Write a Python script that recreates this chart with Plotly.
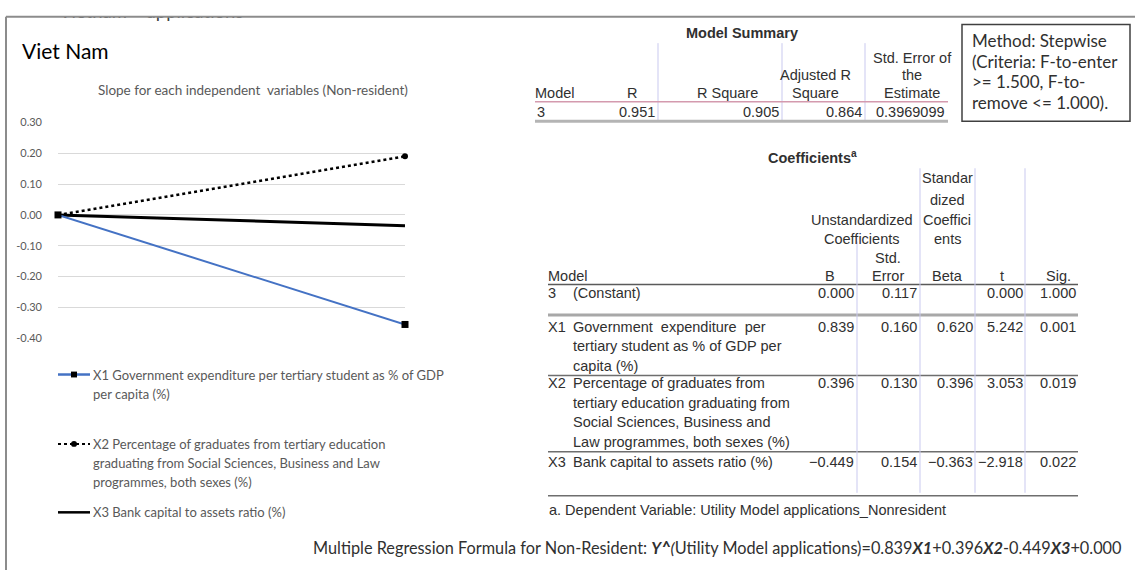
import plotly.graph_objects as go

W, H = 1135, 576

# ---- slope chart data (two points: origin and slope end)
points = [0, 1]
x1_slope = [0.0, -0.355]
x2_slope = [0.0, 0.19]
x3_slope = [0.0, -0.035]
y_ticks = [-0.4, -0.3, -0.2, -0.1, 0.0, 0.1, 0.2, 0.3]
y_tick_labels = ["-0.40", "-0.30", "-0.20", "-0.10", "0.00", "0.10", "0.20", "0.30"]

legend_x1 = ["X1 Government expenditure per tertiary student as % of GDP", "per capita (%)"]
legend_x2 = ["X2 Percentage of graduates from tertiary education",
             "graduating from Social Sciences, Business and Law",
             "programmes, both sexes (%)"]
legend_x3 = ["X3 Bank capital to assets ratio (%)"]

# ---- model summary
summary_model = "3"
summary_r = 0.951
summary_r2 = 0.905
summary_adj_r2 = 0.864
summary_se = 0.3969099

# ---- coefficients table
coef_ids = ["3", "X1", "X2", "X3"]
coef_names = [["(Constant)"],
              ["Government  expenditure  per", "tertiary student as % of GDP per", "capita (%)"],
              ["Percentage of graduates from", "tertiary education graduating from",
               "Social Sciences, Business and", "Law programmes, both sexes (%)"],
              ["Bank capital to assets ratio (%)"]]
coef_b = [0.000, 0.839, 0.396, -0.449]
coef_se = [0.117, 0.160, 0.130, 0.154]
coef_beta = [None, 0.620, 0.396, -0.363]
coef_t = [0.000, 5.242, 3.053, -2.918]
coef_sig = [1.000, 0.001, 0.019, 0.022]

method_lines = ["Method: Stepwise", "(Criteria: F-to-enter", "&gt;= 1.500, F-to-", "remove &lt;= 1.000)."]
clipped_words = ["Vietnam", "applications"]

CAL = "Lato"
SPSS = "Liberation Sans"
GREY = "#595959"
INK = "#303030"
LAV = "#c9c9ef"


def px(x):
    return x / W


def py(y):
    return 1 - y / H


annotations = []
shapes = []


def label(x, y, s, size=14.5, color=INK, family=SPSS, anchor="left"):
    if not s:
        return
    annotations.append(dict(x=px(x), y=py(y), xref="paper", yref="paper", text=s,
                            showarrow=False, xanchor=anchor, yanchor="middle",
                            borderpad=0, borderwidth=0,
                            font=dict(size=size, color=color, family=family)))


def rule(x0, y0, x1, y1, color, width=1, dash="solid"):
    shapes.append(dict(type="line", xref="paper", yref="paper",
                       x0=px(x0), y0=py(y0), x1=px(x1), y1=py(y1),
                       line=dict(color=color, width=width, dash=dash)))


def num(v):
    return "" if v is None else f"{v:.3f}".replace("-", "\u2212")


fig = go.Figure()

# lines of the slope chart
fig.add_trace(go.Scatter(x=points, y=x3_slope, mode="lines", cliponaxis=False,
                         line=dict(color="#000000", width=3), name=legend_x3[0]))
fig.add_trace(go.Scatter(x=points, y=x2_slope, mode="lines+markers", cliponaxis=False,
                         line=dict(color="#000000", width=2.5, dash="dot"),
                         marker=dict(symbol="circle", size=6, color="#000000"),
                         name=legend_x2[0]))
fig.add_trace(go.Scatter(x=points, y=x1_slope, mode="lines+markers", cliponaxis=False,
                         line=dict(color="#4472c4", width=2),
                         marker=dict(symbol="square", size=7, color="#000000"),
                         name=legend_x1[0]))

# caption cut off by the top edge of the screenshot (clipped by its own axis box)
fig.add_trace(go.Scatter(x=[93, 195], y=[7, 7], mode="text", text=clipped_words,
                         textposition="middle center", cliponaxis=True,
                         textfont=dict(family=CAL, size=18.5, color="#404040"),
                         xaxis="x2", yaxis="y2", hoverinfo="skip"))

# ---- frame of the screenshot
rule(6, 10, W, 10, "#8c8c8c", 2)
rule(6, 10, 6, H, "#8c8c8c", 2)

label(22, 44, "Viet Nam", size=21, color="#000000", family=CAL)
label(253, 85, "Slope for each independent  variables (Non-resident)", size=13.5,
      color=GREY, family=CAL, anchor="center")

# ---- manual legend
leg = [(legend_x1, 376, "#4472c4", "solid", "square"),
       (legend_x2, 447, "#000000", "dot", "circle"),
       (legend_x3, 517, "#000000", "solid", None)]
for lines, y0, col, dash, sym in leg:
    rule(58, y0, 90, y0, col, 2.5 if dash == "solid" else 2, dash)
    if sym == "square":
        shapes.append(dict(type="rect", xref="paper", yref="paper",
                           x0=px(71), x1=px(77), y0=py(y0 - 3), y1=py(y0 + 3),
                           fillcolor="#000000", line=dict(width=0)))
    elif sym == "circle":
        shapes.append(dict(type="circle", xref="paper", yref="paper",
                           x0=px(71), x1=px(77), y0=py(y0 - 3), y1=py(y0 + 3),
                           fillcolor="#000000", line=dict(width=0)))
    for i, s in enumerate(lines):
        label(93, y0 + i * 19.5, s, size=13, color=GREY, family=CAL)

# ---- model summary table
label(742, 27, "<b>Model Summary</b>", anchor="center")
label(912, 52, "Std. Error of", anchor="center")
label(815, 70, "Adjusted R", anchor="center")
label(912, 70, "the", anchor="center")
label(535, 88, "Model")
label(632, 88, "R", anchor="center")
label(727, 88, "R Square", anchor="center")
label(815, 88, "Square", anchor="center")
label(912, 88, "Estimate", anchor="center")
label(537, 107, summary_model)
label(655, 107, num(summary_r), anchor="right")
label(779, 107, num(summary_r2), anchor="right")
label(862, 107, num(summary_adj_r2), anchor="right")
label(945, 107, f"{summary_se:.7f}", anchor="right")
for xv in [658, 782, 865]:
    rule(xv, 37, xv, 117, LAV, 1)
rule(535, 97, 948, 97, "#d49aae", 1.5)
rule(535, 117, 948, 117, "#b4b4b4", 3)

# method box
shapes.append(dict(type="rect", xref="paper", yref="paper",
                   x0=px(962), x1=px(1130), y0=py(117), y1=py(18),
                   line=dict(color="#404040", width=1.5)))
for i, s in enumerate(method_lines):
    label(972, 34 + i * 21.3, s, size=17, color=INK, family=CAL)

# ---- coefficients table
label(812, 153, "<b>Coefficients<sup>a</sup></b>", anchor="center")
for s, y in zip(["Standar", "dized", "Coeffici", "ents"], [175, 197, 218, 237]):
    label(947, y, s, anchor="center")
label(862, 218, "Unstandardized", anchor="center")
label(862, 237, "Coefficients", anchor="center")
label(888, 257, "Std.", anchor="center")
label(888, 275, "Error", anchor="center")
label(548, 275, "Model")
label(830, 275, "B", anchor="center")
label(947, 275, "Beta", anchor="center")
label(1002, 275, "t", anchor="center")
label(1058, 275, "Sig.", anchor="center")

row_y = [293, 327, 385, 465]
for k in range(len(coef_ids)):
    y0 = row_y[k]
    label(548, y0, coef_ids[k])
    for i, s in enumerate(coef_names[k]):
        label(573, y0 + i * 20, s)
    label(854, y0, num(coef_b[k]), anchor="right")
    label(917, y0, num(coef_se[k]), anchor="right")
    label(973, y0, num(coef_beta[k]), anchor="right")
    label(1023, y0, num(coef_t[k]), anchor="right")
    label(1076, y0, num(coef_sig[k]), anchor="right")

rule(548, 284, 1078, 284, "#5a5a5a", 1.5)
rule(548, 315, 1078, 315, "#a8a8a8", 3)
rule(548, 377, 1078, 377, "#6e6e6e", 1.5)
rule(548, 455, 1078, 455, "#6e6e6e", 1.5)
rule(548, 500, 1078, 500, "#6e6e6e", 1.5)
rule(857, 240, 857, 497, LAV, 1)
for xv in [920, 975, 1025]:
    rule(xv, 165, xv, 497, LAV, 1)
label(549, 515, "a. Dependent Variable: Utility Model applications_Nonresident")

# regression formula built from the coefficients
formula = ("Multiple Regression Formula for Non-Resident: <b><i>Y^</i></b><i>(</i>Utility Model applications)="
           f"{coef_b[1]:.3f}<b><i>X1</i></b>+{coef_b[2]:.3f}<b><i>X2</i></b>"
           f"{coef_b[3]:.3f}<b><i>X3</i></b>+{coef_b[0]:.3f}")
label(313, 553, formula, size=16.3, color=INK, family=CAL)

fig.update_layout(
    width=W, height=H,
    margin=dict(l=0, r=0, t=0, b=0),
    paper_bgcolor="#ffffff", plot_bgcolor="#ffffff",
    showlegend=False,
    xaxis=dict(domain=[px(58), px(405)], range=[0, 1], visible=False),
    yaxis=dict(domain=[py(339), py(118)], range=[-0.4, 0.3],
               tickvals=y_ticks, ticktext=y_tick_labels,
               showgrid=True, gridcolor="#d9d9d9", gridwidth=1,
               zeroline=False, showline=False, ticks="",
               ticklabelstandoff=15,
               tickfont=dict(family=CAL, size=11, color=GREY)),
    xaxis2=dict(domain=[0, 1], range=[0, W], visible=False, anchor="y2"),
    yaxis2=dict(domain=[py(18), py(10)], range=[18, 10], visible=False, anchor="x2"),
    annotations=annotations,
    shapes=shapes,
)

fig.write_html("out.html", config={"displayModeBar": False},
               post_script="document.body.style.margin='0';")
